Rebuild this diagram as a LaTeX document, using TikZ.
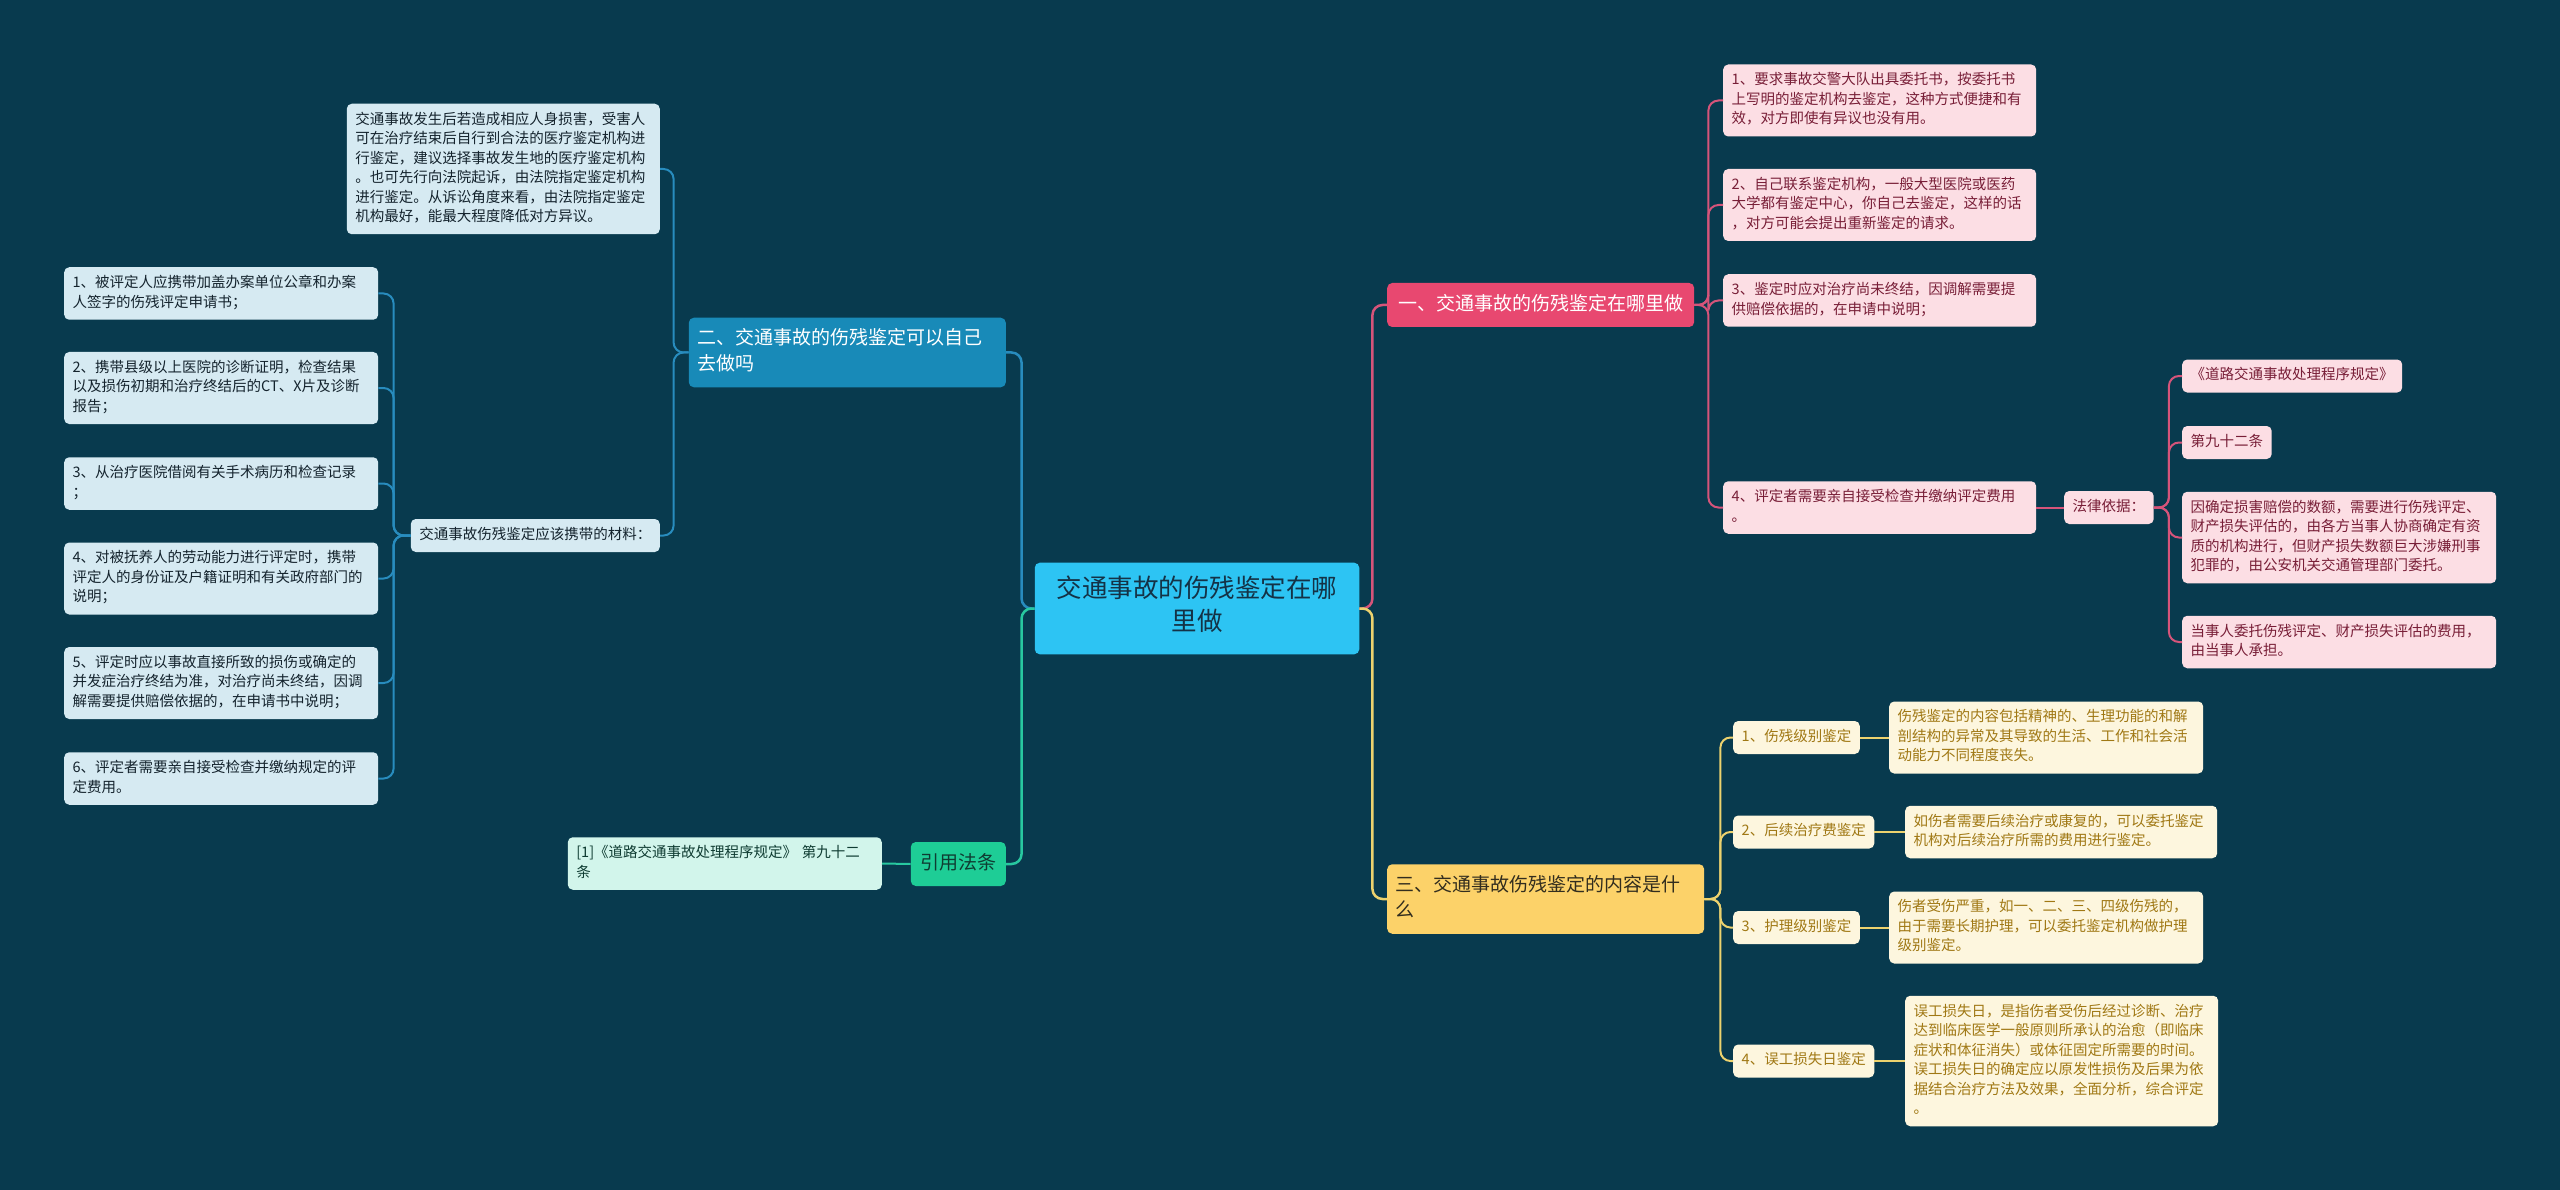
\documentclass[tikz,border=0pt]{standalone}
\usepackage{fontspec}
\setmainfont{Noto Sans CJK SC}

\definecolor{bg}{RGB}{8,58,78}
\definecolor{rootc}{RGB}{45,196,243}
\definecolor{roott}{RGB}{20,50,70}
\definecolor{pink}{RGB}{232,72,112}
\definecolor{pinkl}{RGB}{214,84,122}
\definecolor{pinkf}{RGB}{252,222,228}
\definecolor{pinkt}{RGB}{120,30,55}
\definecolor{blue}{RGB}{24,138,184}
\definecolor{bluel}{RGB}{40,140,190}
\definecolor{bluef}{RGB}{214,234,242}
\definecolor{bluet}{RGB}{20,35,45}
\definecolor{gold}{RGB}{252,210,105}
\definecolor{goldl}{RGB}{236,210,110}
\definecolor{goldf}{RGB}{253,246,222}
\definecolor{goldt}{RGB}{160,120,20}
\definecolor{goldbt}{RGB}{50,45,30}
\definecolor{green}{RGB}{30,205,150}
\definecolor{greenl}{RGB}{40,200,160}
\definecolor{greenf}{RGB}{210,245,235}
\definecolor{greent}{RGB}{15,60,50}

\tikzset{
  root/.style={fill=rootc, text=roott, rounded corners=5pt, align=center,
    inner xsep=22pt, inner ysep=13.5pt, font=\fontsize{25.5}{33}\selectfont,
    execute at begin node=\strut, execute at end node=\strut},
  branch/.style={rounded corners=5pt, align=left, inner xsep=9.5pt, inner ysep=9.25pt,
    font=\fontsize{19}{25.5}\selectfont,
    execute at begin node=\strut, execute at end node=\strut},
  leaf/.style={rounded corners=5pt, align=left, inner xsep=8.5pt, inner ysep=6.75pt,
    font=\fontsize{14.5}{19.5}\selectfont,
    execute at begin node=\strut, execute at end node=\strut},
  link/.style={line width=2.5pt, rounded corners=10pt},
}

\begin{document}
\begin{tikzpicture}[x=1pt, y=-1pt]

\fill[bg] (0,0) rectangle (2560,1190);

%nodes
\node [root] (root) at (1197,608.5) {交通事故的伤残鉴定在哪\\里做};

\node [branch, fill=pink, text=white, anchor=west, inner xsep=11pt] (b1) at (1387,305) {一、交通事故的伤残鉴定在哪里做};
\node [branch, fill=blue, text=white, anchor=east, text width=300pt, inner xsep=8.5pt] (b2) at (1006,352.5) {二、交通事故的伤残鉴定可以自己\\去做吗};
\node [branch, fill=gold, text=goldbt, anchor=west, text width=300pt, inner xsep=8.5pt] (b3) at (1387,899) {三、交通事故伤残鉴定的内容是什\\么};
\node [branch, fill=green, text=greent, anchor=east] (b4) at (1006,864) {引用法条};

% un
\node [leaf, fill=pinkf, text=pinkt, anchor=west, text width=296pt] (p1) at (1723,100.5) {1、要求事故交警大队出具委托书，按委托书\\上写明的鉴定机构去鉴定，这种方式便捷和有\\效，对方即使有异议也没有用。};
\node [leaf, fill=pinkf, text=pinkt, anchor=west, text width=296pt] (p2) at (1723,205) {2、自己联系鉴定机构，一般大型医院或医药\\大学都有鉴定中心，你自己去鉴定，这样的话\\，对方可能会提出重新鉴定的请求。};
\node [leaf, fill=pinkf, text=pinkt, anchor=west, text width=296pt] (p3) at (1723,300.5) {3、鉴定时应对治疗尚未终结，因调解需要提\\供赔偿依据的，在申请中说明；};
\node [leaf, fill=pinkf, text=pinkt, anchor=west, text width=296pt] (p4) at (1723,507.5) {4、评定者需要亲自接受检查并缴纳评定费用\\。};
\node [leaf, fill=pinkf, text=pinkt, anchor=west] (law) at (2064,507.5) {法律依据：};
\node [leaf, fill=pinkf, text=pinkt, anchor=west] (l1) at (2182,376) {《道路交通事故处理程序规定》};
\node [leaf, fill=pinkf, text=pinkt, anchor=west] (l2) at (2182,442.5) {第九十二条};
\node [leaf, fill=pinkf, text=pinkt, anchor=west, text width=297pt] (l3) at (2182,537.5) {因确定损害赔偿的数额，需要进行伤残评定、\\财产损失评估的，由各方当事人协商确定有资\\质的机构进行，但财产损失数额巨大涉嫌刑事\\犯罪的，由公安机关交通管理部门委托。};
\node [leaf, fill=pinkf, text=pinkt, anchor=west, text width=297pt] (l4) at (2182,642) {当事人委托伤残评定、财产损失评估的费用，\\由当事人承担。};

% deux
\node [leaf, fill=bluef, text=bluet, anchor=east, text width=296pt] (a1) at (660,169) {交通事故发生后若造成相应人身损害，受害人\\可在治疗结束后自行到合法的医疗鉴定机构进\\行鉴定，建议选择事故发生地的医疗鉴定机构\\。也可先行向法院起诉，由法院指定鉴定机构\\进行鉴定。从诉讼角度来看，由法院指定鉴定\\机构最好，能最大程度降低对方异议。};
\node [leaf, fill=bluef, text=bluet, anchor=east] (a2) at (660,535.5) {交通事故伤残鉴定应该携带的材料：};
\node [leaf, fill=bluef, text=bluet, anchor=west, text width=297pt] (m1) at (64,293.5) {1、被评定人应携带加盖办案单位公章和办案\\人签字的伤残评定申请书；};
\node [leaf, fill=bluef, text=bluet, anchor=west, text width=297pt] (m2) at (64,388) {2、携带县级以上医院的诊断证明，检查结果\\以及损伤初期和治疗终结后的CT、X片及诊断\\报告；};
\node [leaf, fill=bluef, text=bluet, anchor=west, text width=297pt] (m3) at (64,483.5) {3、从治疗医院借阅有关手术病历和检查记录\\；};
\node [leaf, fill=bluef, text=bluet, anchor=west, text width=297pt] (m4) at (64,578.5) {4、对被抚养人的劳动能力进行评定时，携带\\评定人的身份证及户籍证明和有关政府部门的\\说明；};
\node [leaf, fill=bluef, text=bluet, anchor=west, text width=297pt] (m5) at (64,683) {5、评定时应以事故直接所致的损伤或确定的\\并发症治疗终结为准，对治疗尚未终结，因调\\解需要提供赔偿依据的，在申请书中说明；};
\node [leaf, fill=bluef, text=bluet, anchor=west, text width=297pt] (m6) at (64,778.5) {6、评定者需要亲自接受检查并缴纳规定的评\\定费用。};

% trois
\node [leaf, fill=goldf, text=goldt, anchor=west] (y1) at (1733,737.5) {1、伤残级别鉴定};
\node [leaf, fill=goldf, text=goldt, anchor=west, text width=297pt] (y1d) at (1889,737.5) {伤残鉴定的内容包括精神的、生理功能的和解\\剖结构的异常及其导致的生活、工作和社会活\\动能力不同程度丧失。};
\node [leaf, fill=goldf, text=goldt, anchor=west] (y2) at (1733,832) {2、后续治疗费鉴定};
\node [leaf, fill=goldf, text=goldt, anchor=west, text width=295pt] (y2d) at (1905,832) {如伤者需要后续治疗或康复的，可以委托鉴定\\机构对后续治疗所需的费用进行鉴定。};
\node [leaf, fill=goldf, text=goldt, anchor=west] (y3) at (1733,927.5) {3、护理级别鉴定};
\node [leaf, fill=goldf, text=goldt, anchor=west, text width=297pt] (y3d) at (1889,927.5) {伤者受伤严重，如一、二、三、四级伤残的，\\由于需要长期护理，可以委托鉴定机构做护理\\级别鉴定。};
\node [leaf, fill=goldf, text=goldt, anchor=west] (y4) at (1733,1061) {4、误工损失日鉴定};
\node [leaf, fill=goldf, text=goldt, anchor=west, text width=296pt] (y4d) at (1905,1061) {误工损失日，是指伤者受伤后经过诊断、治疗\\达到临床医学一般原则所承认的治愈（即临床\\症状和体征消失）或体征固定所需要的时间。\\误工损失日的确定应以原发性损伤及后果为依\\据结合治疗方法及效果，全面分析，综合评定\\。};

% quatre
\node [leaf, fill=greenf, text=greent, anchor=east, text width=297pt] (c1) at (882,863.5) {[1]《道路交通事故处理程序规定》 第九十二\\条};

%lines
\draw [link, pinkl] (root.east) -- ++(13,0) |- (b1.west);
\draw [link, goldl] (root.east) -- ++(13,0) |- (b3.west);
\draw [link, bluel] (root.west) -- ++(-13,0) |- (b2.east);
\draw [link, greenl] (root.west) -- ++(-13,0) |- (b4.east);

\draw [link, pinkl, line width=2pt] (b1.east) -- ++(14,0) |- (p1.west);
\draw [link, pinkl, line width=2pt] (b1.east) -- ++(14,0) |- (p2.west);
\draw [link, pinkl, line width=2pt] (b1.east) -- ++(14,0) |- (p3.west);
\draw [link, pinkl, line width=2pt] (b1.east) -- ++(14,0) |- (p4.west);
\draw [link, pinkl, line width=2pt] (p4.east) -- (law.west);
\draw [link, pinkl, line width=2pt] (law.east) -- ++(15,0) |- (l1.west);
\draw [link, pinkl, line width=2pt] (law.east) -- ++(15,0) |- (l2.west);
\draw [link, pinkl, line width=2pt] (law.east) -- ++(15,0) |- (l3.west);
\draw [link, pinkl, line width=2pt] (law.east) -- ++(15,0) |- (l4.west);

\draw [link, bluel, line width=2pt] (b2.west) -- ++(-15,0) |- (a1.east);
\draw [link, bluel, line width=2pt] (b2.west) -- ++(-15,0) |- (a2.east);
\draw [link, bluel, line width=2pt] (a2.west) -- ++(-17,0) |- (m1.east);
\draw [link, bluel, line width=2pt] (a2.west) -- ++(-17,0) |- (m2.east);
\draw [link, bluel, line width=2pt] (a2.west) -- ++(-17,0) |- (m3.east);
\draw [link, bluel, line width=2pt] (a2.west) -- ++(-17,0) |- (m4.east);
\draw [link, bluel, line width=2pt] (a2.west) -- ++(-17,0) |- (m5.east);
\draw [link, bluel, line width=2pt] (a2.west) -- ++(-17,0) |- (m6.east);

\draw [link, goldl, line width=2pt] (b3.east) -- ++(16,0) |- (y1.west);
\draw [link, goldl, line width=2pt] (b3.east) -- ++(16,0) |- (y2.west);
\draw [link, goldl, line width=2pt] (b3.east) -- ++(16,0) |- (y3.west);
\draw [link, goldl, line width=2pt] (b3.east) -- ++(16,0) |- (y4.west);
\draw [link, goldl, line width=2pt] (y1.east) -- (y1d.west);
\draw [link, goldl, line width=2pt] (y2.east) -- (y2d.west);
\draw [link, goldl, line width=2pt] (y3.east) -- (y3d.west);
\draw [link, goldl, line width=2pt] (y4.east) -- (y4d.west);

\draw [link, greenl, line width=2pt] (b4.west) -- (c1.east);

\end{tikzpicture}
\end{document}
